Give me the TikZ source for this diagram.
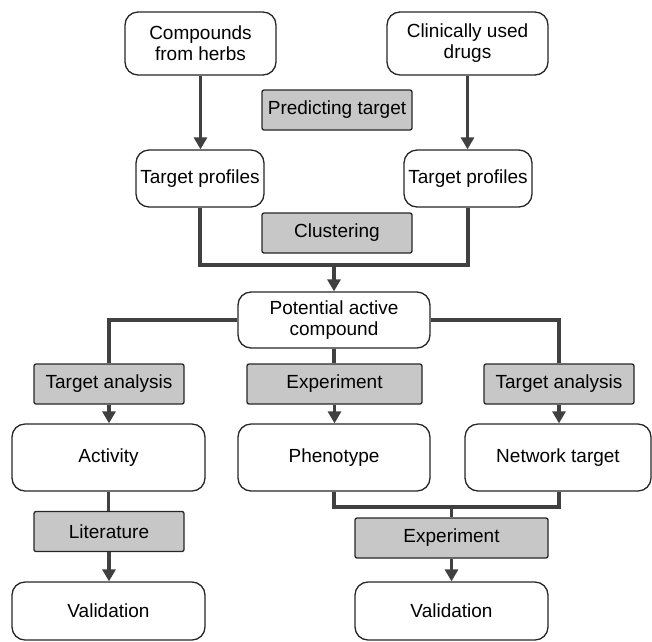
\documentclass[tikz,border=0pt]{standalone}
\usepackage{fontspec}
\setmainfont{Liberation Sans}
\usetikzlibrary{arrows.meta}
\begin{document}
\begin{tikzpicture}[x=1pt,y=-1pt,
  rbox/.style={draw=black!85,line width=1.3pt,rounded corners=13pt,fill=white,align=center,inner sep=0pt,font=\fontsize{19}{21}\selectfont},
  gbox/.style={draw=black!85,line width=1.3pt,rounded corners=2pt,fill=black!22,inner sep=0pt,minimum height=40pt,font=\fontsize{19}{21}\selectfont},
  link/.style={draw=black!75,line width=3.5pt},
  arr/.style={link,-{Triangle[length=12pt,width=13pt]}}]
  \useasboundingbox (0,0) rectangle (652,641);

  \node[rbox,minimum width=151pt,minimum height=63pt] (herbs) at (200.5,43.5) {Compounds\\from herbs};
  \node[rbox,minimum width=161pt,minimum height=63pt] (drugs) at (467.5,43.5) {Clinically used\\drugs};
  \node[gbox,minimum width=150pt] (predict) at (337,110) {Predicting target};
  \node[rbox,minimum width=128pt,minimum height=57pt] (prof1) at (200,178.5) {Target profiles};
  \node[rbox,minimum width=128pt,minimum height=57pt] (prof2) at (468,178.5) {Target profiles};
  \node[gbox,minimum width=150pt] (cluster) at (337,233) {Clustering};
  \node[rbox,minimum width=192pt,minimum height=56pt] (pac) at (334,320) {Potential active\\compound};

  \node[gbox,minimum width=150pt] (ta1) at (109,384) {Target analysis};
  \node[gbox,minimum width=175pt] (exp1) at (334.5,384) {Experiment};
  \node[gbox,minimum width=150pt] (ta2) at (559,384) {Target analysis};

  \node[rbox,minimum width=193pt,minimum height=67pt] (act) at (108.5,457.5) {Activity};
  \node[rbox,minimum width=192pt,minimum height=67pt] (phen) at (334,457.5) {Phenotype};
  \node[rbox,minimum width=186pt,minimum height=67pt] (net) at (558,457.5) {Network target};

  \node[gbox,minimum width=150pt] (lit) at (109,531.5) {Literature};
  \node[gbox,minimum width=193pt] (exp2) at (451.5,538) {Experiment};
  \node[rbox,minimum width=193pt,minimum height=58pt] (val1) at (108.5,611) {Validation};
  \node[rbox,minimum width=193pt,minimum height=58pt] (val2) at (451.5,611) {Validation};

  \coordinate (join1) at (334,265);
  \coordinate (join2) at (451.5,507);

  \draw[arr] (herbs.south) -- (herbs.south |- prof1.north);
  \draw[arr] (drugs.south) -- (drugs.south |- prof2.north);
  \draw[link] (prof1.south) |- (join1) -| (prof2.south);
  \draw[arr] (join1) -- (pac.north);

  \draw[link] (pac.west) -| (ta1.north);
  \draw[link] (pac.east) -| (ta2.north);
  \draw[link] (pac.south) -- (pac.south |- exp1.north);

  \draw[arr] (ta1.south) -- (ta1.south |- act.north);
  \draw[arr] (exp1.south) -- (exp1.south |- phen.north);
  \draw[arr] (ta2.south) -- (ta2.south |- net.north);

  \draw[link] (act.south) -- (act.south |- lit.north);
  \draw[arr] (lit.south) -- (lit.south |- val1.north);

  \draw[link] (phen.south) |- (join2) -| (ta2.south |- net.south);
  \draw[link] (join2) -- (exp2.north);
  \draw[arr] (exp2.south) -- (val2.north);
\end{tikzpicture}
\end{document}
